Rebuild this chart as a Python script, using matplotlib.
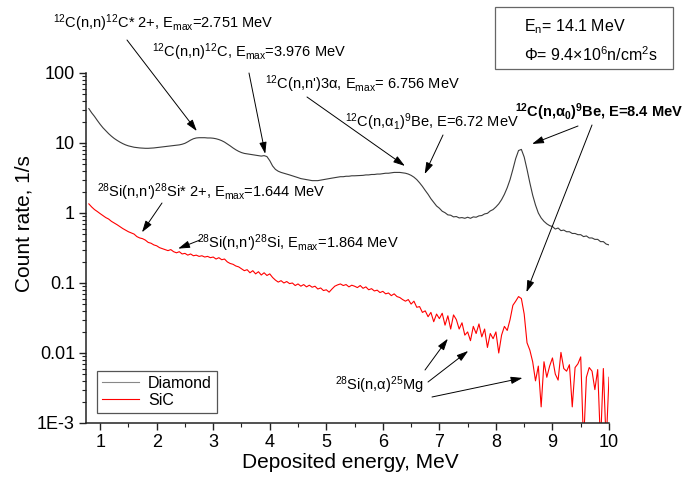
import numpy as np
import matplotlib
matplotlib.use('Agg')
import matplotlib.pyplot as plt
from matplotlib.patches import Rectangle
from matplotlib.ticker import FixedLocator, MultipleLocator, LogLocator, FixedFormatter, NullFormatter

# ---------------- data ----------------
energy = np.round(np.arange(0.80, 10.0001, 0.05), 2)   # MeV, 0.05 MeV channels

diamond = [
    31, 27, 24, 21, 18.5, 16.5, 15, 13.6, 12.5, 11.6,            # 0.80-1.25
    10.9, 10.3, 9.8, 9.4, 9.1, 8.9, 8.7, 8.6, 8.5, 8.45,          # 1.30-1.75
    8.4, 8.4, 8.45, 8.5, 8.6, 8.7, 8.8, 8.9, 9.0, 9.1,            # 1.80-2.25
    9.2, 9.3, 9.4, 9.6, 9.9, 10.4, 11.0, 11.5, 11.8, 11.9,        # 2.30-2.75
    11.9, 11.9, 11.8, 11.8, 11.7, 11.5, 11.2, 10.8, 10.3, 9.7,    # 2.80-3.25
    9.1, 8.5, 8.0, 7.6, 7.3, 7.1, 7.0, 6.9, 6.8, 6.7,             # 3.30-3.75
    6.6, 6.5, 6.6, 6.4, 5.6, 4.7, 4.2, 3.95, 3.8, 3.7,            # 3.80-4.25
    3.6, 3.5, 3.4, 3.3, 3.2, 3.1, 3.05, 3.0, 2.95, 2.9,           # 4.30-4.75
    2.9, 2.9, 2.95, 3.0, 3.05, 3.1, 3.15, 3.2, 3.25, 3.3,         # 4.80-5.25
    3.3, 3.35, 3.35, 3.4, 3.4, 3.42, 3.45, 3.45, 3.5, 3.5,        # 5.30-5.75
    3.55, 3.55, 3.6, 3.6, 3.65, 3.7, 3.7, 3.75, 3.8, 3.8,         # 5.80-6.25
    3.8, 3.75, 3.7, 3.6, 3.45, 3.25, 3.0, 2.7, 2.4, 2.1,          # 6.30-6.75
    1.85, 1.6, 1.42, 1.26, 1.17, 1.06, 1.01, 0.94, 0.93, 0.88,    # 6.80-7.25
    0.89, 0.85, 0.86, 0.84, 0.87, 0.84, 0.88, 0.87, 0.91, 0.92,   # 7.30-7.75
    0.97, 0.99, 1.07, 1.12, 1.22, 1.35, 1.55, 1.85, 2.3, 3.0,     # 7.80-8.25
    4.2, 6.0, 7.8, 8.1, 6.3, 4.2, 2.7, 1.8, 1.3, 1.0,             # 8.30-8.75
    0.85, 0.76, 0.7, 0.66, 0.64, 0.59, 0.61, 0.56, 0.57, 0.54,    # 8.80-9.25
    0.54, 0.51, 0.51, 0.49, 0.49, 0.46, 0.47, 0.44, 0.44, 0.42,   # 9.30-9.75
    0.42, 0.39, 0.39, 0.36, 0.35,                                 # 9.80-10.00
]

sic = [
    1.35, 1.22, 1.12, 1.05, 0.98, 0.92, 0.86, 0.82, 0.76, 0.72,                   # 0.80-1.25
    0.68, 0.64, 0.6, 0.57, 0.54, 0.52, 0.5, 0.46, 0.44, 0.43,                     # 1.30-1.75
    0.41, 0.38, 0.37, 0.35, 0.34, 0.32, 0.31, 0.3, 0.29, 0.3,                     # 1.80-2.25
    0.28, 0.27, 0.28, 0.26, 0.265, 0.25, 0.26, 0.245, 0.25, 0.24,                 # 2.30-2.75
    0.245, 0.235, 0.24, 0.23, 0.235, 0.22, 0.23, 0.215, 0.22, 0.2,                # 2.80-3.25
    0.19, 0.185, 0.175, 0.17, 0.16, 0.15, 0.155, 0.14, 0.15, 0.135,               # 3.30-3.75
    0.145, 0.13, 0.14, 0.128, 0.135, 0.12, 0.11, 0.103, 0.108, 0.1,               # 3.80-4.25
    0.105, 0.098, 0.1, 0.092, 0.097, 0.09, 0.095, 0.088, 0.093, 0.087,            # 4.30-4.75
    0.09, 0.082, 0.085, 0.078, 0.08, 0.074, 0.082, 0.09, 0.094, 0.097,            # 4.80-5.25
    0.092, 0.095, 0.088, 0.093, 0.09, 0.086, 0.092, 0.084, 0.088, 0.08,           # 5.30-5.75
    0.083, 0.077, 0.079, 0.073, 0.076, 0.07, 0.072, 0.066, 0.07, 0.064,           # 5.80-6.25
    0.062, 0.058, 0.055, 0.058, 0.05, 0.055, 0.045, 0.046, 0.038, 0.04,           # 6.30-6.75
    0.033, 0.038, 0.028, 0.036, 0.031, 0.037, 0.025, 0.034, 0.022, 0.035,         # 6.80-7.25
    0.03, 0.022, 0.027, 0.018, 0.02, 0.015, 0.024, 0.019, 0.026, 0.017,           # 7.30-7.75
    0.022, 0.012, 0.019, 0.016, 0.02, 0.01, 0.018, 0.024, 0.021, 0.03,            # 7.80-8.25
    0.048, 0.055, 0.064, 0.06, 0.036, 0.014, 0.011, 0.0075, 0.004, 0.0065,        # 8.30-8.75
    0.0017, 0.0075, 0.0045, 0.0065, 0.0085, 0.005, 0.0041, 0.0102, 0.006, 0.0055, # 8.80-9.25
    0.0068, 0.0017, 0.0062, 0.007, 0.0088, 0.0005, 0.0045, 0.0062, 0.0055, 0.003, # 9.30-9.75
    0.0058, 0.0005, 0.006, 0.0005, 0.0045,                                        # 9.80-10.00
]

series_names = ['Diamond', 'SiC']
x_ticks = [1, 2, 3, 4, 5, 6, 7, 8, 9, 10]
y_ticks = [1e-3, 1e-2, 1e-1, 1, 10, 100]
y_tick_labels = ['1E-3', '0.01', '0.1', '1', '10', '100']

# annotation labels and the spectrum features they point at (energy, rate)
ann_labels = [
    r'$^{12}$C(n,n)$^{12}$C* 2+, E$_{\mathrm{max}}$=2.751 MeV',
    r'$^{12}$C(n,n)$^{12}$C, E$_{\mathrm{max}}$=3.976 MeV',
    r"$^{12}$C(n,n')3α, E$_{\mathrm{max}}$= 6.756 MeV",
    r'$^{12}$C(n,α$_{\mathrm{1}}$)$^{9}$Be, E=6.72 MeV',
    r'$^{\mathbf{12}}$C(n,α$_{\mathbf{0}}$)$^{\mathbf{9}}$Be, E=8.4 MeV',
    r"$^{28}$Si(n,n')$^{28}$Si* 2+, E$_{\mathrm{max}}$=1.644 MeV",
    r"$^{28}$Si(n,n')$^{28}$Si, E$_{\mathrm{max}}$=1.864 MeV",
    r'$^{28}$Si(n,α)$^{25}$Mg',
]
ann_bold = [False, False, False, False, True, False, False, False]
ann_targets = [
    [(2.71, 14.8)],
    [(3.92, 7.0)],
    [(6.39, 4.7)],
    [(6.74, 3.6)],
    [(8.64, 9.7), (8.54, 0.074)],
    [(1.74, 0.53)],
    [(2.38, 0.31)],
    [(7.15, 0.016), (7.51, 0.0107), (8.47, 0.0044)],
]

# ---------------- layout (pixels of a 685x482 canvas) ----------------
W, H = 685, 482
ann_text_px = [(53, 23), (152, 52), (265, 84), (345, 122), (515, 112),
               (97, 192), (197, 243), (335, 385)]
ann_arrow_start_px = [
    [(127, 40)],
    [(249, 73)],
    [(307, 97)],
    [(443, 135)],
    [(578, 126), (592, 125)],
    [(162, 203)],
    [(200, 240)],
    [(425, 370), (428, 382), (432, 397)],
]

plt.rcParams['font.family'] = ['Liberation Sans', 'DejaVu Sans']
plt.rcParams['mathtext.fontset'] = 'custom'
plt.rcParams['mathtext.rm'] = 'Liberation Sans'
plt.rcParams['mathtext.it'] = 'Liberation Sans:italic'
plt.rcParams['mathtext.bf'] = 'Liberation Sans:bold'

fig = plt.figure(figsize=(W / 100, H / 100), dpi=100)
ax = fig.add_axes([86 / W, 1 - 423 / H, (609 - 86) / W, (423 - 73) / H])

ax.plot(energy, diamond, color='#3a3a3a', lw=0.8, label=series_names[0])
ax.plot(energy, sic, color='#ff0000', lw=0.8, label=series_names[1])

ax.set_yscale('log')
ax.set_xlim(0.75, 10)
ax.set_ylim(1e-3, 100)

ax.xaxis.set_major_locator(FixedLocator(x_ticks))
ax.xaxis.set_minor_locator(MultipleLocator(0.5))
ax.yaxis.set_major_locator(FixedLocator(y_ticks))
ax.yaxis.set_major_formatter(FixedFormatter(y_tick_labels))
ax.yaxis.set_minor_locator(LogLocator(base=10, subs=np.arange(2, 10)))
ax.yaxis.set_minor_formatter(NullFormatter())

for s in ['top', 'right']:
    ax.spines[s].set_visible(False)
for s in ['left', 'bottom']:
    ax.spines[s].set_linewidth(1.1)
    ax.spines[s].set_color('#222222')

ax.tick_params(which='major', direction='out', length=5, width=1.0,
               labelsize=13, pad=3, colors='#222222', labelcolor='black')
ax.tick_params(which='minor', direction='out', length=3, width=0.8, colors='#222222')

ax.set_xlabel('Deposited energy, MeV', fontsize=15)
ax.set_ylabel('Count rate, 1/s', fontsize=15)
ax.xaxis.set_label_coords(0.505, -0.085)
ax.yaxis.set_label_coords(-0.10, 0.57)

leg = ax.legend(loc='lower left', bbox_to_anchor=(0.021, 0.029), borderaxespad=0,
                fontsize=11.5, frameon=True, fancybox=False, framealpha=1,
                edgecolor='#555555', handlelength=2.3, handletextpad=0.6,
                borderpad=0.3, labelspacing=0.15)
leg.get_frame().set_linewidth(0.9)
leg.get_lines()[0].set_color('#888888')

# annotations
arrow_kw = dict(arrowstyle='-|>,head_length=0.7,head_width=0.22', color='black',
                lw=0.7, shrinkA=0, shrinkB=0)
for lab, bold, (tx, ty), starts, targets in zip(ann_labels, ann_bold, ann_text_px,
                                                 ann_arrow_start_px, ann_targets):
    fig.text(tx / W, 1 - ty / H, lab, fontsize=10.5, ha='left', va='center',
             fontweight='bold' if bold else 'normal')
    for (sx, sy), (ex, ey) in zip(starts, targets):
        ax.annotate('', xy=(ex, ey), xycoords='data',
                    xytext=(sx / W, 1 - sy / H), textcoords='figure fraction',
                    arrowprops=arrow_kw, annotation_clip=False)

# info box
fig.patches.append(Rectangle((495 / W, 1 - 69 / H), (673 - 495) / W, 62 / H,
                             transform=fig.transFigure, fill=False,
                             edgecolor='#666666', lw=0.9))
fig.text(524 / W, 1 - 27 / H, r'E$_{\mathrm{n}}$= 14.1 MeV', fontsize=11.5,
         ha='left', va='center')
fig.text(524 / W, 1 - 55 / H, r'Φ= 9.4×10$^{6}$n/cm$^{2}$s', fontsize=11.5,
         ha='left', va='center')

fig.savefig('out.png', dpi=100)
